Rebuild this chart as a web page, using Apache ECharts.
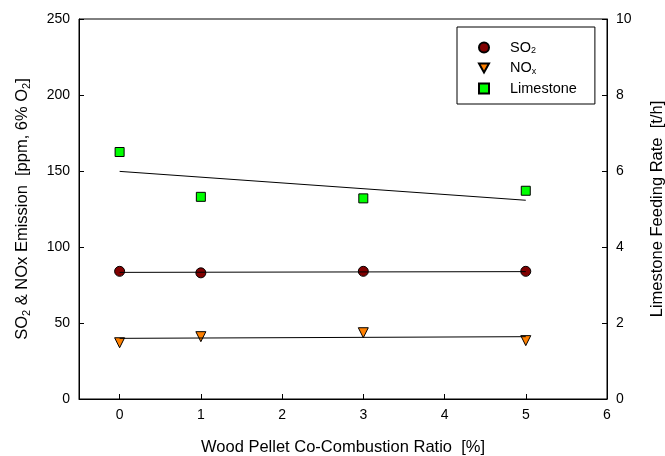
<!DOCTYPE html>
<html>
<head>
<meta charset="utf-8">
<script src="https://cdn.jsdelivr.net/npm/echarts@6/dist/echarts.min.js"></script>
<style>
html, body { margin: 0; padding: 0; background: #fff; }
#main { width: 665px; height: 456px; }
</style>
</head>
<body>
<div id="main"></div>
<script>
// data
var ratio = [0, 1, 3, 5];
var so2 = [84, 83, 84, 84];
var nox = [37, 41, 43.6, 38.4];
var limestone = [6.5, 5.32, 5.28, 5.48];
// regression lines (end points)
var fitX = [0, 5];
var so2Fit = [83.3, 83.8];
var noxFit = [39.9, 41.0];
var limeFit = [5.99, 5.23];
var xTicks = [0, 1, 2, 3, 4, 5, 6];

function pairs(xs, ys) {
    return xs.map(function (x, i) { return [x, ys[i]]; });
}

var font = 'Liberation Sans, Arial, sans-serif';
var titleSize = 16.5;
var subT = { fontSize: 11, fontFamily: font, padding: [8, 0, 0, 0], color: '#000' };
var normT = { fontSize: titleSize, fontFamily: font, color: '#000' };
var subL = { fontSize: 9, fontFamily: font, padding: [7, 0, 0, 0], color: '#000' };
var normL = { fontSize: 14.5, fontFamily: font, color: '#000' };

var myChart = echarts.init(document.getElementById('main'));
option = {
    animation: false,
    grid: {
        left: 79, right: 58, top: 19, bottom: 57,
        outerBoundsMode: 'none',
        show: true, borderColor: '#000', borderWidth: 1
    },
    legend: {
        orient: 'vertical',
        left: 457, top: 27,
        padding: [13, 18, 8, 21],
        borderColor: '#000', borderWidth: 1,
        itemWidth: 10, itemHeight: 10, itemGap: 5,
        data: [
            { name: 'SO2', icon: 'circle' },
            { name: 'NOx', icon: 'path://M0,0 L10,0 L5,9 Z' },
            { name: 'Limestone', icon: 'rect' }
        ],
        formatter: function (name) {
            if (name == 'SO2') return '{n|SO}{s|2}';
            if (name == 'NOx') return '{n|NO}{s|x}';
            return '{n|Limestone}';
        },
        textStyle: {
            fontSize: 14.5, fontFamily: font, color: '#000',
            padding: [0, 0, 0, 16],
            rich: { n: normL, s: subL }
        }
    },
    xAxis: {
        type: 'value', min: -0.5, max: 6,
        name: 'Wood Pellet Co-Combustion Ratio  [%]',
        nameLocation: 'middle', nameGap: 40,
        nameTextStyle: { fontSize: titleSize, fontFamily: font, color: '#000' },
        axisLine: { lineStyle: { color: '#000' } },
        axisTick: { inside: true, length: 5, customValues: xTicks, lineStyle: { color: '#000' } },
        axisLabel: { customValues: xTicks, fontSize: 14, fontFamily: font, color: '#000', margin: 9 },
        splitLine: { show: false }
    },
    yAxis: [
        {
            type: 'value', min: 0, max: 250, interval: 50,
            name: '{n|SO}{s|2}{n| & NOx Emission  [ppm, 6% O}{s|2}{n|]}',
            nameLocation: 'middle', nameGap: 47, nameRotate: 90,
            nameTextStyle: { fontSize: titleSize, fontFamily: font, color: '#000', rich: { n: normT, s: subT } },
            axisLine: { show: true, onZero: false, lineStyle: { color: '#000' } },
            axisTick: { show: true, inside: true, length: 5, lineStyle: { color: '#000' } },
            axisLabel: { fontSize: 14, fontFamily: font, color: '#000', margin: 9 },
            splitLine: { show: false }
        },
        {
            type: 'value', min: 0, max: 10, interval: 2,
            position: 'right',
            name: 'Limestone Feeding Rate  [t/h]',
            nameLocation: 'middle', nameGap: 42, nameRotate: 90,
            nameTextStyle: { fontSize: titleSize, fontFamily: font, color: '#000' },
            axisLine: { show: true, onZero: false, lineStyle: { color: '#000' } },
            axisTick: { show: true, inside: true, length: 5, lineStyle: { color: '#000' } },
            axisLabel: { fontSize: 14, fontFamily: font, color: '#000', margin: 9 },
            splitLine: { show: false }
        }
    ],
    series: [
        {
            name: 'SO2fit', type: 'line', data: pairs(fitX, so2Fit), symbol: 'none',
            lineStyle: { color: '#000', width: 1 }, silent: true
        },
        {
            name: 'NOxfit', type: 'line', data: pairs(fitX, noxFit), symbol: 'none',
            lineStyle: { color: '#000', width: 1 }, silent: true
        },
        {
            name: 'Limefit', type: 'line', yAxisIndex: 1, data: pairs(fitX, limeFit), symbol: 'none',
            lineStyle: { color: '#000', width: 1 }, silent: true
        },
        {
            name: 'SO2', type: 'scatter', data: pairs(ratio, so2),
            symbol: 'circle', symbolSize: 10,
            itemStyle: { color: '#800000', borderColor: '#000', borderWidth: 1, opacity: 1 }
        },
        {
            name: 'NOx', type: 'scatter', data: pairs(ratio, nox),
            symbol: 'triangle', symbolSize: 10, symbolRotate: 180,
            itemStyle: { color: '#ff8000', borderColor: '#000', borderWidth: 1, opacity: 1 }
        },
        {
            name: 'Limestone', type: 'scatter', yAxisIndex: 1, data: pairs(ratio, limestone),
            symbol: 'rect', symbolSize: 9,
            itemStyle: { color: '#00ff00', borderColor: '#000', borderWidth: 1, opacity: 1 }
        }
    ]
};
myChart.setOption(option);
</script>
</body>
</html>
